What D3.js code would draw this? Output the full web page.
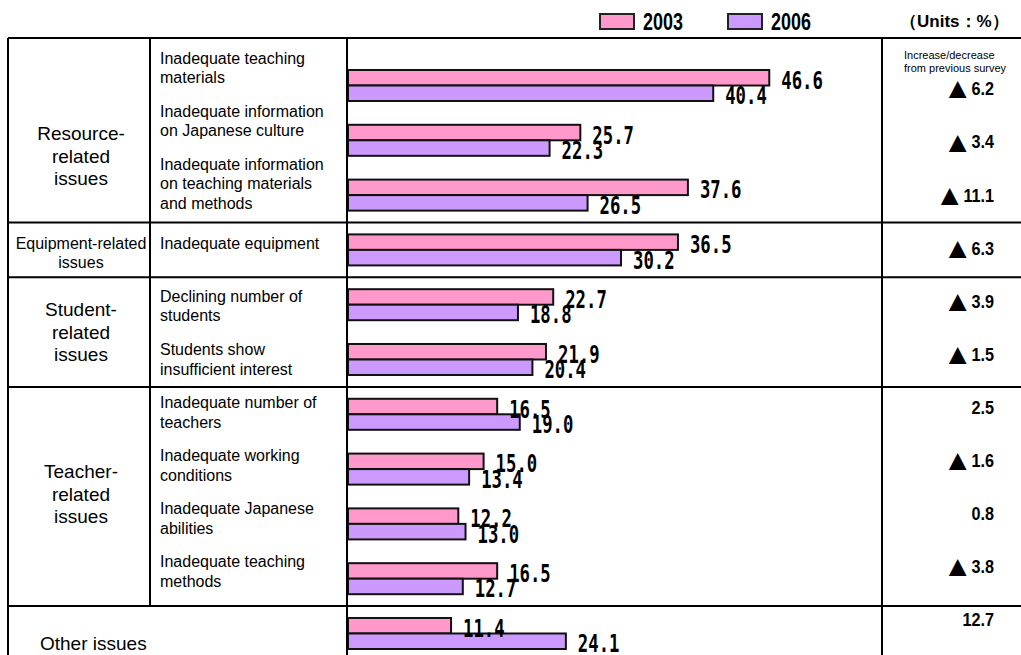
<!DOCTYPE html>
<html>
<head>
<meta charset="utf-8">
<script src="https://cdn.jsdelivr.net/npm/d3@7"></script>
<style>
  body { margin: 0; background: #fff; }
  svg { display: block; font-family: "Liberation Sans", Arial, sans-serif; }
</style>
</head>
<body>
<div id="chart"></div>
<script>
// data
const years = ['2003', '2006'];
const itemLabels = [
    ['Inadequate teaching', 'materials'],
    ['Inadequate information', 'on Japanese culture'],
    ['Inadequate information', 'on teaching materials', 'and methods'],
    ['Inadequate equipment'],
    ['Declining number of', 'students'],
    ['Students show', 'insufficient interest'],
    ['Inadequate number of', 'teachers'],
    ['Inadequate working', 'conditions'],
    ['Inadequate Japanese', 'abilities'],
    ['Inadequate teaching', 'methods'],
    []
];
const itemGroup = [0, 0, 0, 1, 2, 2, 3, 3, 3, 3, 4];
const groupLabels = [
    ['Resource-', 'related', 'issues'],
    ['Equipment-related', 'issues'],
    ['Student-', 'related', 'issues'],
    ['Teacher-', 'related', 'issues'],
    ['Other issues']
];
const values2003 = [46.6, 25.7, 37.6, 36.5, 22.7, 21.9, 16.5, 15.0, 12.2, 16.5, 11.4];
const values2006 = [40.4, 22.3, 26.5, 30.2, 18.8, 20.4, 19.0, 13.4, 13.0, 12.7, 24.1];
// change from previous survey, negative = decrease (shown with ▲)
const change = [-6.2, -3.4, -11.1, -6.3, -3.9, -1.5, 2.5, -1.6, 0.8, -3.8, 12.7];

const W = 1021, H = 655;
const colors = {'2003': '#ff99cc', '2006': '#cc99ff'};
const tableTop = 38, colLeft = 8, colItem = 150, colBars = 347, colChange = 882;
const n = values2003.length;

const svg = d3.select('#chart')
    .append('svg')
    .attr('width', W)
    .attr('height', H);

const x = d3.scaleLinear()
    .domain([0, 50])
    .range([348, 800]);

const y = d3.scaleBand()
    .domain(d3.range(n))
    .range([70, 649])
    .paddingInner(0.434)
    .paddingOuter(0);

const yYear = d3.scaleBand()
    .domain(years)
    .range([0, y.bandwidth()]);

// text rows of the table (right column + labels)
const row = d3.scalePoint()
    .domain(d3.range(n))
    .range([89, 620]);

const gap = y.step() - y.bandwidth();

// group boundaries
const groupIdx = d3.range(groupLabels.length);
const groupTop = g => g === 0 ? tableTop : y(itemGroup.indexOf(g)) - gap / 2;
const groupBottom = g => g === groupLabels.length - 1 ? H + 26 : groupTop(g + 1);

// ---- bars
const bars = [];
d3.range(n).forEach(i => {
    bars.push({i, year: '2003', v: values2003[i]});
    bars.push({i, year: '2006', v: values2006[i]});
});

svg.append('g')
    .selectAll('rect')
    .data(bars)
    .enter()
    .append('rect')
    .attr('x', x(0))
    .attr('y', d => y(d.i) + yYear(d.year))
    .attr('width', d => x(d.v) - x(0))
    .attr('height', yYear.bandwidth())
    .attr('fill', d => colors[d.year])
    .attr('stroke', '#111')
    .attr('stroke-width', 2);

// value labels (narrow, tall digits)
svg.append('g')
    .selectAll('g')
    .data(bars)
    .enter()
    .append('g')
    .attr('transform', d => `translate(${x(d.v) + 12},${y(d.i) + yYear(d.year) + yYear.bandwidth() / 2 + 3}) scale(0.72,1)`)
    .append('text')
    .attr('dominant-baseline', 'central')
    .style('font-family', '"DejaVu Sans Mono", monospace')
    .style('font-size', '24px')
    .style('font-weight', 'bold')
    .attr('fill', '#000')
    .text(d => d3.format('.1f')(d.v));

// ---- table lines
const lines = svg.append('g')
    .attr('stroke', '#000')
    .attr('stroke-width', 2);

lines.append('line')
    .attr('x1', colLeft).attr('x2', W)
    .attr('y1', tableTop).attr('y2', tableTop);

groupIdx.slice(1).forEach(g => {
    lines.append('line')
        .attr('x1', colLeft).attr('x2', W)
        .attr('y1', groupTop(g)).attr('y2', groupTop(g));
});

lines.append('line')
    .attr('x1', colLeft).attr('x2', colLeft)
    .attr('y1', tableTop).attr('y2', H);
lines.append('line')
    .attr('x1', colItem).attr('x2', colItem)
    .attr('y1', tableTop).attr('y2', groupTop(groupLabels.length - 1));
lines.append('line')
    .attr('x1', colBars).attr('x2', colBars)
    .attr('y1', tableTop).attr('y2', H);
lines.append('line')
    .attr('x1', colChange).attr('x2', colChange)
    .attr('y1', tableTop).attr('y2', H);

// ---- group labels
const groupNudge = [26, 3, 0, -2, 0];
groupIdx.forEach(g => {
    const ls = groupLabels[g];
    const fs = g === 1 ? 16 : 19;
    const lh = g === 1 ? 19 : 22.5;
    const cy = (groupTop(g) + groupBottom(g)) / 2 + groupNudge[g];
    const last = g === groupLabels.length - 1;
    const t = svg.append('text')
        .attr('x', last ? 40 : (colLeft + colItem) / 2 + 2)
        .attr('text-anchor', last ? 'start' : 'middle')
        .style('font-size', fs + 'px')
        .attr('fill', '#000');
    ls.forEach((l, k) => {
        t.append('tspan')
            .attr('x', last ? 40 : (colLeft + colItem) / 2 + 2)
            .attr('y', cy + (k - (ls.length - 1) / 2) * lh)
            .attr('dominant-baseline', 'central')
            .text(l);
    });
});

// ---- item labels
itemLabels.forEach((ls, i) => {
    const y1 = row(i) - (itemGroup[i] === 0 ? 31 : 5);
    const t = svg.append('text')
        .style('font-size', '16px')
        .attr('fill', '#000');
    ls.forEach((l, k) => {
        t.append('tspan')
            .attr('x', 160)
            .attr('y', y1 + k * 19.5)
            .attr('dominant-baseline', 'central')
            .text(l);
    });
});

// ---- change column
svg.append('text')
    .attr('x', 904)
    .style('font-size', '11px')
    .attr('fill', '#000')
    .selectAll('tspan')
    .data(['Increase/decrease', 'from previous survey'])
    .enter()
    .append('tspan')
    .attr('x', 904)
    .attr('y', (d, k) => 55 + k * 13)
    .attr('dominant-baseline', 'central')
    .text(d => d);

const chg = svg.append('g')
    .selectAll('g')
    .data(change)
    .enter()
    .append('g')
    .attr('transform', (d, i) => `translate(994,${row(i)}) scale(0.9,1)`)
    .append('text')
    .attr('text-anchor', 'end')
    .attr('dominant-baseline', 'central')
    .style('font-size', '18px')
    .style('font-weight', 'bold')
    .attr('fill', '#000');

chg.filter(d => d < 0)
    .append('tspan')
    .style('font-family', '"Noto Sans CJK JP", sans-serif')
    .style('font-size', '21px')
    .style('font-weight', 'normal')
    .text('▲ ');
chg.append('tspan')
    .text(d => d3.format('.1f')(Math.abs(d)));

// ---- legend
const legend = svg.append('g');
years.forEach((yr, k) => {
    const lx = 600 + k * 128;
    legend.append('rect')
        .attr('x', lx).attr('y', 14)
        .attr('width', 34).attr('height', 15)
        .attr('fill', colors[yr])
        .attr('stroke', '#222')
        .attr('stroke-width', 2);
    legend.append('g')
        .attr('transform', `translate(${lx + 43},22) scale(0.78,1)`)
        .append('text')
        .attr('dominant-baseline', 'central')
        .style('font-size', '23px')
        .style('font-weight', 'bold')
        .attr('fill', '#000')
        .text(yr);
});

svg.append('text')
    .attr('x', 900)
    .attr('y', 21)
    .attr('dominant-baseline', 'central')
    .style('font-size', '17px')
    .style('font-weight', 'bold')
    .attr('fill', '#000')
    .text('（Units：%）');
</script>
</body>
</html>
